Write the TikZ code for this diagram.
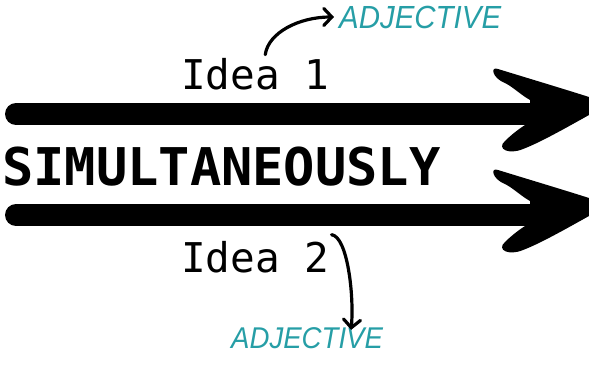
\documentclass[tikz,border=0pt]{standalone}
\usepackage{fontspec}
\usepackage{tikz}
\usetikzlibrary{arrows.meta,calc}
\newfontfamily\monofont{DejaVu Sans Mono}
\newfontfamily\adjfont[FakeStretch=0.92]{Liberation Sans}
\definecolor{adjteal}{RGB}{38,158,166}

\tikzset{
  ideatext/.style={inner sep=0pt,anchor=base west,font=\monofont\fontsize{41}{41}\selectfont},
  adjtext/.style={inner sep=0pt,anchor=base west,text=adjteal,font=\adjfont\itshape\fontsize{#1}{#1}\selectfont},
  shaft/.style={line width=22pt,line cap=round},
  curly/.style={line width=3.2pt,line cap=round,-{Straight Barb[length=8pt,width=17pt,line cap=round]}},
  brushhead/.pic={
    \fill (-91,-42) .. controls (-65,-34) and (-25,-22) .. (0,-14)
      -- (0,4)
      .. controls (-25,18) and (-50,32) .. (-66,38)
      .. controls (-80,44) and (-93,38) .. (-84,30)
      .. controls (-78,24) and (-68,16) .. (-59,11)
      -- (-59,-11)
      .. controls (-68,-16) and (-76,-24) .. (-84,-28)
      .. controls (-97,-33) and (-99,-45) .. (-91,-42) -- cycle;
  }
}

\begin{document}
\begin{tikzpicture}[x=1pt,y=-1pt]
    % pixel grid of the reference, y pointing down
    \useasboundingbox (0,0) rectangle (589,373);
    % The two big arrows
    \draw[shaft] (16,114) -- (560,114);
    \pic at (589,111) {brushhead};
    \draw[shaft] (16,215) -- (560,215);
    \pic at (589,212) {brushhead};
    % Texts
    \node[inner sep=0pt,anchor=base west,font=\monofont\bfseries\fontsize{52}{52}\selectfont] (word) at (2,185) {SIMULTANEOUSLY};
    \node[ideatext] (idea1) at (181,89) {Idea 1};
    \node[ideatext] (idea2) at (181,272) {Idea 2};
    \node[adjtext=32] (adj1) at (339,28) {ADJECTIVE};
    \node[adjtext=30] (adj2) at (231,348) {ADJECTIVE};
    % Curved pointers
    \draw[curly] ([xshift=10pt,yshift=3pt]idea1.north) .. controls +(3,-22) and +(-35,0) .. ([xshift=-5pt]adj1.west);
    \draw[curly] ([xshift=2pt,yshift=6pt]idea2.north east) .. controls +(16,2) and +(3,-35) .. ([xshift=44pt,yshift=-3pt]adj2.north);
\end{tikzpicture}
\end{document}
